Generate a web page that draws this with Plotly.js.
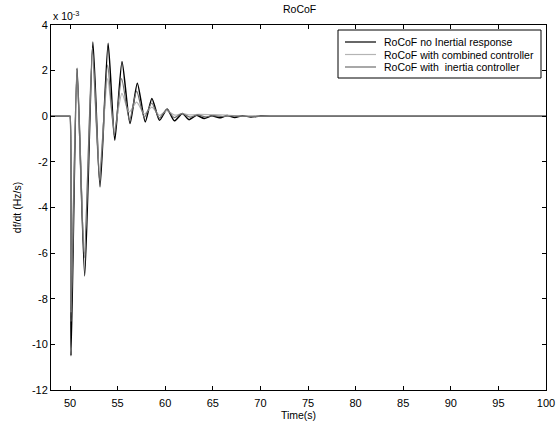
<!DOCTYPE html>
<html>
<head>
<meta charset="utf-8">
<script src="https://cdn.plot.ly/plotly-3.0.1.min.js"></script>
<style>html,body{margin:0;padding:0;background:#fff;}#chart{width:560px;height:421px;}</style>
</head>
<body>
<div id="chart"></div>
<script>
// Time (s) and RoCoF values (x 10^-3 Hz/s)
var tNoInertia = [48, 49.95, 50.0, 50.1, 50.74, 51.54, 52.4, 53.15, 54.0, 54.7, 55.46, 56.3, 57.07, 57.9, 58.6, 59.4, 60.2, 60.96, 61.8, 62.5, 63.3, 64.1, 64.9, 65.7, 66.5, 67.3, 68.1, 69.0, 70.0, 71.4, 72, 100];
var yNoInertia = [0, 0, 0, -10.5, 2.1, -7.0, 3.25, -3.1, 3.2, -1.05, 2.4, -0.32, 1.45, -0.25, 0.78, -0.18, 0.32, -0.2, 0.12, -0.15, 0.04, -0.1, 0.02, -0.07, 0.03, -0.05, 0.02, -0.03, 0.01, 0, 0, 0];

var tCombined = [48, 49.95, 50.0, 50.1, 50.72, 51.5, 52.35, 53.1, 53.95, 54.65, 55.45, 56.2, 57.0, 57.8, 58.6, 59.4, 60.15, 61.0, 61.8, 62.6, 63.5, 65.0, 66.5, 68.0, 70.0, 100];
var yCombined = [0, 0, 0, -8.6, 2.0, -6.0, 2.7, -2.4, 1.65, -0.6, 1.0, 0.18, 0.62, 0.1, 0.4, 0.04, 0.25, 0.05, 0.12, 0.06, 0.08, 0.07, 0.05, 0.01, 0, 0];

var tInertia = [48, 49.95, 50.0, 50.1, 50.72, 51.5, 52.35, 53.1, 53.95, 54.65, 55.42, 56.25, 57.0, 57.8, 58.58, 59.38, 60.15, 60.95, 61.75, 62.6, 63.4, 64.2, 65.0, 66.0, 67.0, 68.0, 70.0, 100];
var yInertia = [0, 0, 0, -9.0, 2.1, -6.2, 3.0, -2.8, 2.25, -0.85, 1.65, -0.18, 1.1, -0.05, 0.58, -0.08, 0.3, -0.06, 0.12, -0.04, 0.06, -0.03, 0.03, -0.01, 0.01, 0, 0, 0];

var seriesNames = ['RoCoF no Inertial response', 'RoCoF with combined controller', 'RoCoF with  inertia controller'];
var seriesColors = ['#000000', '#b4b4b4', '#6e6e6e'];
var xTicks = [50, 55, 60, 65, 70, 75, 80, 85, 90, 95, 100];
var yTicks = [-12, -10, -8, -6, -4, -2, 0, 2, 4];

var traces = [
  {x: tNoInertia, y: yNoInertia, name: seriesNames[0], mode: 'lines', line: {color: seriesColors[0], width: 1.5, shape: 'spline', smoothing: 0.6}},
  {x: tCombined, y: yCombined, name: seriesNames[1], mode: 'lines', line: {color: seriesColors[1], width: 1.2, shape: 'spline', smoothing: 0.6}},
  {x: tInertia, y: yInertia, name: seriesNames[2], mode: 'lines', line: {color: seriesColors[2], width: 1.2, shape: 'spline', smoothing: 0.6}}
];

var FAM = 'Liberation Sans, Arial, sans-serif';
var L = 51, R = 546, T = 25, B = 390;
function px(x) { return (x - L) / (R - L); }
function py(y) { return 1 - (y - T) / (B - T); }

var shapes = [{type: 'rect', xref: 'paper', yref: 'paper', x0: px(338), x1: px(541), y0: py(30), y1: py(78),
  line: {color: '#000', width: 1}, fillcolor: '#fff', layer: 'above'}];
var annotations = [{
  text: 'x 10<sup>-3</sup>', xref: 'paper', yref: 'paper', x: 0, y: 1, xanchor: 'left', yanchor: 'bottom',
  showarrow: false, font: {family: FAM, size: 10.5, color: '#000'}, yshift: 1
}];
var rowY = [42, 54.5, 67];
for (var i = 0; i < seriesNames.length; i++) {
  shapes.push({type: 'line', xref: 'paper', yref: 'paper', x0: px(345), x1: px(376), y0: py(rowY[i]), y1: py(rowY[i]),
    line: {color: seriesColors[i], width: 1.2}, layer: 'above'});
  annotations.push({text: seriesNames[i], xref: 'paper', yref: 'paper', x: px(382), y: py(rowY[i]),
    xanchor: 'left', yanchor: 'middle', showarrow: false, font: {family: FAM, size: 10.5, color: '#000'}});
}

var layout = {
  width: 560, height: 421,
  margin: {l: L, r: 560 - R, t: T, b: 421 - B},
  paper_bgcolor: '#fff', plot_bgcolor: '#fff',
  font: {family: FAM, size: 11, color: '#000'},
  showlegend: false,
  title: {text: 'RoCoF', font: {family: FAM, size: 10.5, color: '#000'}, x: 0.535, xanchor: 'center', y: 0.977, yanchor: 'middle'},
  xaxis: {
    range: [48, 100], tickvals: xTicks, ticktext: xTicks.map(String),
    ticks: 'inside', ticklen: 4, tickcolor: '#000', showline: true, linecolor: '#000', linewidth: 1,
    mirror: 'allticks', showgrid: false, zeroline: false, ticklabelstandoff: 3,
    tickfont: {family: FAM, size: 11, color: '#000'},
    title: {text: 'Time(s)', font: {family: FAM, size: 10.5, color: '#000'}, standoff: 0}
  },
  yaxis: {
    range: [-12, 4], tickvals: yTicks, ticktext: yTicks.map(String),
    ticks: 'inside', ticklen: 4, tickcolor: '#000', showline: true, linecolor: '#000', linewidth: 1,
    mirror: 'allticks', showgrid: false, zeroline: false,
    tickfont: {family: FAM, size: 11, color: '#000'},
    title: {text: 'df/dt (Hz/s)', font: {family: FAM, size: 10.5, color: '#000'}, standoff: 8}
  },
  shapes: shapes,
  annotations: annotations
};

Plotly.newPlot('chart', traces, layout, {displayModeBar: false, staticPlot: true});
</script>
</body>
</html>
